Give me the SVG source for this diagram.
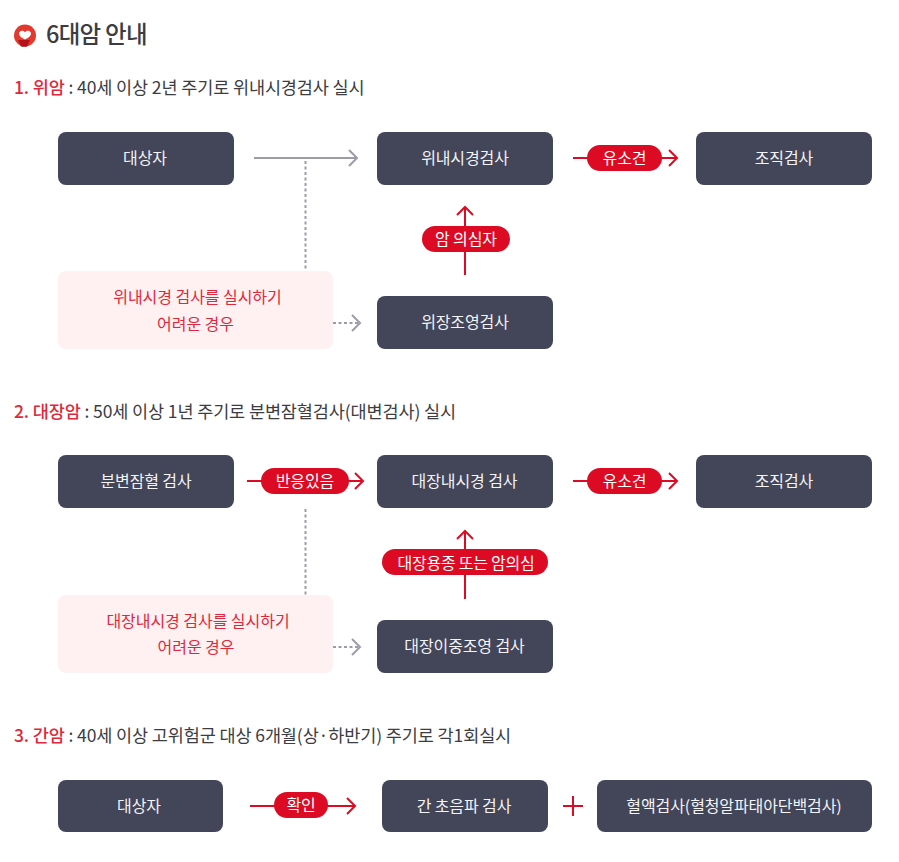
<svg xmlns="http://www.w3.org/2000/svg" width="899" height="862" viewBox="0 0 899 862">
<style>
text{font-family:"Noto Sans CJK KR","Noto Sans",sans-serif}
.n{fill:#434559}
.nt{fill:#f4f4f6;font-size:16px;text-anchor:middle;letter-spacing:-.1px}
.p{fill:#fff1f1}
.pt{fill:#e0283c;font-size:16px;text-anchor:middle;letter-spacing:-.05px}
.b{fill:#dc0a23}
.bt{fill:#fff;font-size:16px;text-anchor:middle;letter-spacing:-.1px}
.h{fill:#3c3c42;font-size:17.5px;letter-spacing:-.12px}
.r{fill:#e0283c;font-weight:500}
.lr,.lg,.ld{fill:none}
.lr{stroke:#dc0a23;stroke-width:2}
.lg{stroke:#9c9ca8;stroke-width:2}
.ld{stroke:#9c9ca8;stroke-width:2;stroke-dasharray:3 2.5}
</style>
<rect width="899" height="862" fill="#fff"/>
<g id="title">
<circle cx="25" cy="35.500" r="11" fill="#e23a2e"/>
<path d="M18 40h12l-3 6.500q-3 .5-6 0z" fill="#b50f1a"/>
<path d="M19.500 32c2-2 4.500-1.500 5.500.5 1-2 3.500-2.500 5.500-.5 1.500 2.500-.5 5-5.500 7.500-5-2.500-7-5-5.500-7.500z" fill="#fff"/>
<text x="46" y="43" fill="#3c3c42" font-size="23.500" font-weight="500" letter-spacing="-.7">6대암 안내</text>
</g>
<g id="heading-1"><text class="h" x="14" y="94"><tspan class="r">1. 위암</tspan> : 40세 이상 2년 주기로 위내시경검사 실시</text></g>
<g id="heading-2"><text class="h" x="14" y="418"><tspan class="r">2. 대장암</tspan> : 50세 이상 1년 주기로 분변잠혈검사(대변검사) 실시</text></g>
<g id="heading-3"><text class="h" x="14" y="742"><tspan class="r">3. 간암</tspan> : 40세 이상 고위험군 대상 6개월(상·하반기) 주기로 각1회실시</text></g>
<g id="connectors">
<path class="lg" d="M254 158H357M349 150l8 8-8 8"/>
<path class="ld" d="M305.500 161V271"/>
<path class="ld" d="M333 323H358"/>
<path class="lg" d="M352 315l8 8-8 8"/>
<path class="lr" d="M573 158H676M669 150l8 8-8 8"/>
<path class="lr" d="M465 275V207M457 215l8-8 8 8"/>
<path class="lr" d="M247 481H362M355 473l8 8-8 8"/>
<path class="ld" d="M305.500 509V595"/>
<path class="lr" d="M573 481H676M669 473l8 8-8 8"/>
<path class="lr" d="M465 599V531M457 539l8-8 8 8"/>
<path class="ld" d="M333 647H358"/>
<path class="lg" d="M352 639l8 8-8 8"/>
<path class="lr" d="M250 806H354M347 798l8 8-8 8"/>
<path class="lr" d="M563 806H583M573 796V816"/>
</g>
<g id="n1"><rect class="n" x="58" y="132" width="176" height="53" rx="8"/><text class="nt" x="145" y="163.500">대상자</text></g>
<g id="n2"><rect class="n" x="377" y="132" width="176" height="53" rx="8"/><text class="nt" x="465" y="163.500">위내시경검사</text></g>
<g id="n3"><rect class="n" x="696" y="132" width="176" height="53" rx="8"/><text class="nt" x="784" y="163.500">조직검사</text></g>
<g id="n4"><rect class="p" x="58" y="271" width="275" height="78" rx="8"/><text class="pt" x="197.500" y="302.500">위내시경 검사를 실시하기</text><text class="pt" x="195.500" y="329.500">어려운 경우</text></g>
<g id="n5"><rect class="n" x="377" y="296" width="176" height="53" rx="8"/><text class="nt" x="465" y="327.500">위장조영검사</text></g>
<g id="b1"><rect class="b" x="587" y="145" width="75" height="26" rx="13"/><text class="bt" x="624.500" y="163.500">유소견</text></g>
<g id="b2"><rect class="b" x="422" y="226" width="88" height="26" rx="13"/><text class="bt" x="466" y="244.500">암 의심자</text></g>
<g id="n6"><rect class="n" x="58" y="455" width="176" height="53" rx="8"/><text class="nt" x="146" y="486.500">분변잠혈 검사</text></g>
<g id="n7"><rect class="n" x="377" y="455" width="176" height="53" rx="8"/><text class="nt" x="464.500" y="486.500">대장내시경 검사</text></g>
<g id="n8"><rect class="n" x="696" y="455" width="176" height="53" rx="8"/><text class="nt" x="784" y="486.500">조직검사</text></g>
<g id="n9"><rect class="p" x="58" y="595" width="275" height="78" rx="8"/><text class="pt" x="198" y="626.500">대장내시경 검사를 실시하기</text><text class="pt" x="196" y="652.500">어려운 경우</text></g>
<g id="n10"><rect class="n" x="377" y="620" width="176" height="53" rx="8"/><text class="nt" x="464.500" y="651.500">대장이중조영 검사</text></g>
<g id="b3"><rect class="b" x="261" y="468" width="88" height="26" rx="13"/><text class="bt" x="305" y="486.500">반응있음</text></g>
<g id="b4"><rect class="b" x="587" y="468" width="75" height="26" rx="13"/><text class="bt" x="624.500" y="486.500">유소견</text></g>
<g id="b5"><rect class="b" x="382" y="549" width="166" height="26" rx="13"/><text class="bt" x="466" y="568.500" style="letter-spacing:-.25px">대장용종 또는 암의심</text></g>
<g id="n11"><rect class="n" x="58" y="780" width="165" height="52" rx="8"/><text class="nt" x="139" y="811.500">대상자</text></g>
<g id="b6"><rect class="b" x="274" y="792" width="54" height="26" rx="13"/><text class="bt" x="301" y="810.500">확인</text></g>
<g id="n12"><rect class="n" x="382" y="780" width="166" height="52" rx="8"/><text class="nt" x="464" y="811.500">간 초음파 검사</text></g>
<g id="n13"><rect class="n" x="597" y="780" width="275" height="52" rx="8"/><text class="nt" x="734" y="811.500">혈액검사(혈청알파태아단백검사)</text></g>
</svg>
